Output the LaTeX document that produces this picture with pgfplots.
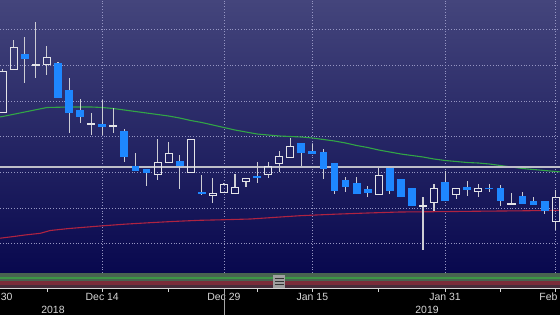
\documentclass[border=0pt]{standalone}
\usepackage{fontspec}
\setmainfont{Liberation Sans}
\usepackage{pgfplots}
\usepackage{pgfplotstable}
\pgfplotsset{compat=1.18}
\definecolor{bgTop}{RGB}{68,69,124}
\definecolor{bgBot}{RGB}{8,8,78}
\definecolor{gridc}{RGB}{150,150,195}
\definecolor{candB}{RGB}{30,135,255}
\definecolor{candW}{RGB}{228,228,232}
\definecolor{wickc}{RGB}{205,205,212}
\definecolor{greenMA}{RGB}{50,165,70}
\definecolor{redMA}{RGB}{175,35,65}
\definecolor{pricec}{RGB}{190,190,200}
\definecolor{labc}{RGB}{215,215,215}
\definecolor{stripG}{RGB}{72,100,80}
\definecolor{stripGl}{RGB}{60,150,70}
\definecolor{stripR}{RGB}{122,45,58}
\definecolor{stripD}{RGB}{70,45,58}

% up (hollow) candles: body top, body bottom, high, low
\pgfplotstableread{
x bt bb hi lo
0 201 160 204 160
1 225 203 233 203
3 208.5 207.5 251 195
4 215 208 227 198
8 149.5 148.5 160 138
10 147.5 146.5 165 140
14 111 99 134 93
15 120 111 131 111
17 134 101 134 101
19 80 78 95 70
20 89 81 90 80
21 86 80 99 79
22 95 92 95 86
24 107 99 111 95
25 117 110 122 101
26 127 116 135 116
34 98 79 105 78
38 67.5 66.5 76 23
39 85 71 89 62
41 85 79 85 74
43 85 82 89 76
46 69.5 68.5 80 68.5
50 76 52 83 43
}\upT

% down (filled) candles
\pgfplotstableread{
x bt bb hi lo
2 219 214 236 190
5 210 175 211 175
6 183 160 195 140
7 163 156 174 150
9 149 146 173 138
11 142 116 144 111
12 107 102 120 102
13 104 100 104 87
16 112 107 118 84
18 81 79.5 98 79
23 97 95.5 111 90
27 130 120 130 107
28 122 119 129 119
29 121 104 124 94
30 110 82 110 79
31 93 86 96 81
32 90 79 96 79
33 84 80 87 76
35 105 82 105 79
36 94 76 94 76
37 85 67 85 67
40 91 72 102 72
42 86 83 92 77
44 85.5 84 89 81
45 85 72 88 67
47 77 69 81 69
48 72 68 76 68
49 72 62 72 59
}\dnT

\pgfplotstableread{
x y
-0.3 156
0 156.5
2 161
4 165.5
6 166
8 166
9 165.5
10 164.5
11 163
12 161.5
13 160
14 158.5
15 157
16 155
17 152.5
18 150.5
19 148
20 145.5
21 143
22 141
23 139
24 138
25 137
26 136.5
27 136
28 135
29 133.5
30 132
31 130
32 127.5
33 125.5
34 123
35 121
36 119
37 117.5
38 116
39 114
40 112.5
41 111.5
42 110.5
43 110
44 109
45 107.5
46 106
47 104.5
48 103.5
49 102.5
50 101.5
50.5 101
}\maG

\pgfplotstableread{
x y
-0.3 34.7
1 36.5
2 38
3.4 39.7
4.3 42.5
6 44.5
8.8 47
11 48.8
13.3 50.3
15.5 51.6
17.8 52.7
20.1 53.3
22.4 54
25.1 56
26.9 57.3
30 58.8
33 60
35.9 61
40 61.4
43.2 61.8
47 62.2
50.5 62.7
}\maR

\begin{document}
\begin{tikzpicture}[x=1bp,y=1bp]
\fill[black] (0,0) rectangle (560,315);
\begin{axis}[
  at={(0,42)}, anchor=south west,
  scale only axis, width=560bp, height=273bp,
  xmin=-0.244, xmax=50.39, ymin=0, ymax=273,
  axis background/.style={top color=bgTop, bottom color=bgBot},
  axis line style={draw=none},
  tick style={draw=none},
  xtick={9,20,28,40,50},
  xticklabels={Dec 14, Dec 29, Jan 15, Jan 31, Feb 14},
  ytick={29.5,65.1,100.7,136.3,171.9,207.5,243.1},
  yticklabels={},
  grid=major,
  major grid style={draw=gridc, line width=0.8bp, dash pattern=on 0.8bp off 2bp},
  xticklabel style={font=\fontsize{10.5}{12}\selectfont, text=labc, anchor=base, yshift=-27.5bp},
  candle/.style={draw=none, no markers},
]
\addplot[draw=redMA, line width=1.1bp, no markers] table[x=x,y=y]{\maR};
\addplot[draw=greenMA, line width=1.1bp, no markers] table[x=x,y=y]{\maG};
\addplot[draw=pricec, line width=1.4bp, no markers] coordinates {(-1,106) (52,106)};

% wicks
\addplot[candle, error bars/.cd, y dir=plus, y explicit, error mark=none,
  error bar style={draw=wickc, line width=1.1bp}]
  table[x=x, y=bt, y error expr=\thisrow{hi}-\thisrow{bt}]{\upT};
\addplot[candle, error bars/.cd, y dir=minus, y explicit, error mark=none,
  error bar style={draw=wickc, line width=1.1bp}]
  table[x=x, y=bb, y error expr=\thisrow{bb}-\thisrow{lo}]{\upT};
\addplot[candle, error bars/.cd, y dir=plus, y explicit, error mark=none,
  error bar style={draw=wickc, line width=1.1bp}]
  table[x=x, y=bt, y error expr=\thisrow{hi}-\thisrow{bt}]{\dnT};
\addplot[candle, error bars/.cd, y dir=minus, y explicit, error mark=none,
  error bar style={draw=wickc, line width=1.1bp}]
  table[x=x, y=bb, y error expr=\thisrow{bb}-\thisrow{lo}]{\dnT};

% filled (down) bodies
\addplot[candle, error bars/.cd, y dir=both, y explicit, error mark=none,
  error bar style={draw=candB, line width=7.8bp}]
  table[x=x, y expr=(\thisrow{bt}+\thisrow{bb})/2, y error expr=(\thisrow{bt}-\thisrow{bb})/2]{\dnT};

% hollow (up) bodies: left, right, top, bottom edges
\addplot[candle, error bars/.cd, y dir=plus, y explicit, error mark=none,
  error bar style={draw=candW, line width=1bp, line cap=rect}]
  table[x expr=\thisrow{x}-0.32, y=bb, y error expr=\thisrow{bt}-\thisrow{bb}]{\upT};
\addplot[candle, error bars/.cd, y dir=plus, y explicit, error mark=none,
  error bar style={draw=candW, line width=1bp, line cap=rect}]
  table[x expr=\thisrow{x}+0.32, y=bb, y error expr=\thisrow{bt}-\thisrow{bb}]{\upT};
\addplot[candle, error bars/.cd, x dir=both, x fixed=0.32, error mark=none,
  error bar style={draw=candW, line width=1bp, line cap=rect}]
  table[x=x, y=bt]{\upT};
\addplot[candle, error bars/.cd, x dir=both, x fixed=0.32, error mark=none,
  error bar style={draw=candW, line width=1bp, line cap=rect}]
  table[x=x, y=bb]{\upT};
\end{axis}

% navigator strip
\fill[stripG] (0,37.7) rectangle (560,41.8);
\fill[stripGl] (0,36.3) rectangle (560,37.7);
\fill[stripG] (0,33.6) rectangle (560,36.3);
\fill[stripR] (0,30.2) rectangle (560,33.6);
\fill[stripD] (0,27) rectangle (560,30.2);
\fill[gray!75] (273.3,27.5) rectangle (285,40.5);
\draw[gray!40!black, line width=0.6bp] (274.5,31) -- (283.8,31) (274.5,34) -- (283.8,34) (274.5,37) -- (283.8,37);
\draw[labc, line width=1bp] (0,26.5) -- (560,26.5);
\foreach \i in {4,9,15,20,23,28,34,40,45,50}
  \draw[labc, line width=0.8bp] ({2.7+11.06*\i},26.5) -- ++(0,-3.5);
\draw[gray!70, line width=0.8bp] (224,26) -- (224,0);
\node[anchor=base, text=labc, font=\fontsize{10.5}{12}\selectfont, inner sep=0] at (-4,14.5) {Nov 30};
\node[anchor=base, text=labc, font=\fontsize{10.5}{12}\selectfont, inner sep=0] at (53,2) {2018};
\node[anchor=base, text=labc, font=\fontsize{10.5}{12}\selectfont, inner sep=0] at (427,2) {2019};
\pgfresetboundingbox
\useasboundingbox (0,0) rectangle (560,315);
\end{tikzpicture}
\end{document}
